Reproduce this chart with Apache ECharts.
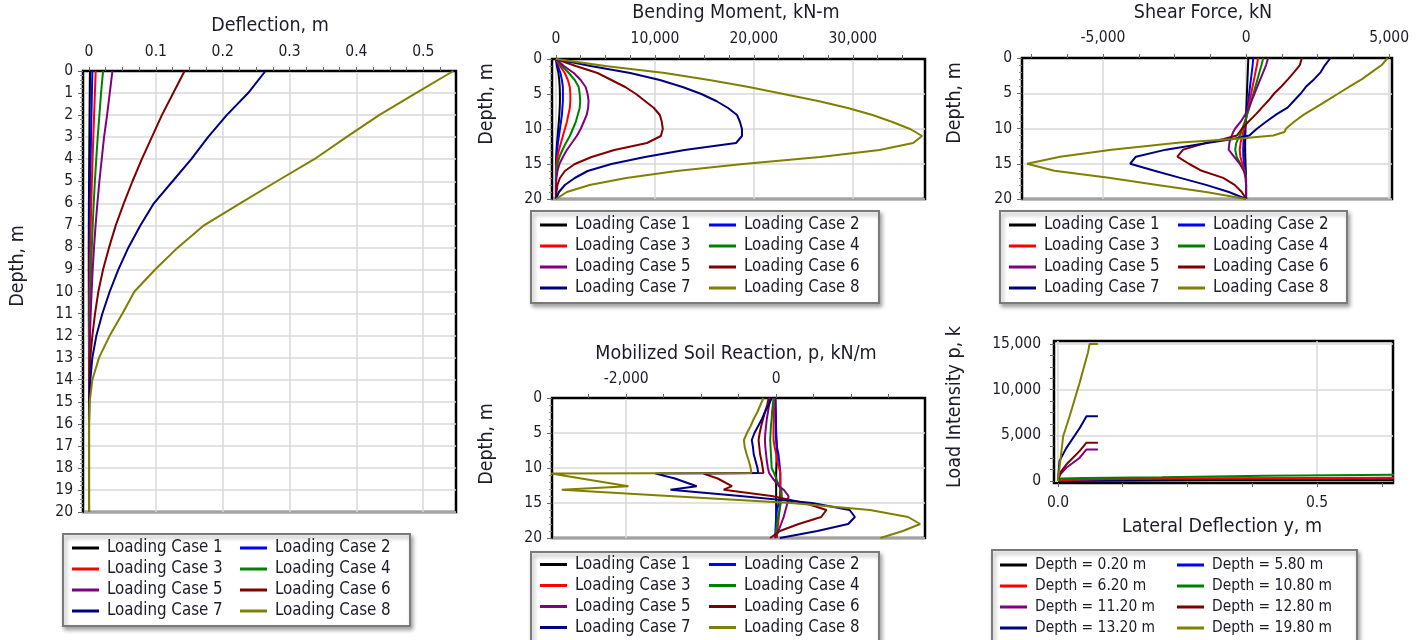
<!DOCTYPE html>
<html>
<head>
<meta charset="utf-8">
<title>Lateral pile response</title>
<script src="https://cdn.jsdelivr.net/npm/echarts@6/dist/echarts.min.js"></script>
<style>
  html, body { margin: 0; padding: 0; background: #fff; }
  #main { width: 1417px; height: 640px; }
</style>
</head>
<body>
<div id="main"></div>
<script>
// ---------- data ----------
const caseNames = ['Loading Case 1', 'Loading Case 2', 'Loading Case 3', 'Loading Case 4',
  'Loading Case 5', 'Loading Case 6', 'Loading Case 7', 'Loading Case 8']
const depthNames = ['Depth = 0.20 m', 'Depth = 5.80 m', 'Depth = 6.20 m', 'Depth = 10.80 m',
  'Depth = 11.20 m', 'Depth = 12.80 m', 'Depth = 13.20 m', 'Depth = 19.80 m']
const colors = ['#000000', '#0000ff', '#ff0000', '#008000', '#800080', '#800000', '#000080', '#808000']

// depth stations (m)
const depth = [0, 1, 2, 3, 4, 5, 6, 7, 8, 9, 10, 11, 12, 13, 14, 15, 16, 17, 18, 19, 20]
const shearDepth = [0, 1, 2, 3, 4, 5, 6, 7, 8, 9, 10, 10.5, 11, 11.5, 12, 13, 14, 15, 16, 17, 18, 19, 20]
const soilDepth = [0, 1, 2, 3, 4, 5, 6, 7, 8, 9, 10, 10.7, 10.8, 11.5, 12.6, 13.1, 14, 15, 16, 17, 18, 19, 20]

// deflection (m), one row per loading case
const deflection = [
  [0.0015, 0.0012, 0.0009, 0.0006, 0.0003, 0.0001, -0.0002, -0.0003, -0.0004, -0.0004, -0.0003, -0.0003, -0.0002, -0.0001, 0, 0, 0, 0, 0, 0, 0],
  [0.005, 0.0043, 0.0036, 0.003, 0.0024, 0.0018, 0.0013, 0.0009, 0.0006, 0.0003, 0.0001, 0, 0, 0, 0, 0, 0, 0, 0, 0, 0],
  [0.010, 0.0088, 0.0076, 0.0064, 0.0053, 0.0043, 0.0034, 0.0026, 0.0019, 0.0013, 0.0008, 0.0005, 0.0002, 0.0001, 0, 0, 0, 0, 0, 0, 0],
  [0.021, 0.018, 0.0155, 0.013, 0.0108, 0.0088, 0.007, 0.0055, 0.0042, 0.003, 0.0021, 0.0013, 0.0007, 0.0003, 0.0001, 0, 0, 0, 0, 0, 0],
  [0.035, 0.031, 0.027, 0.0225, 0.019, 0.0155, 0.0125, 0.0098, 0.0075, 0.0055, 0.0039, 0.0025, 0.0014, 0.0007, 0.0002, 0, 0, 0, 0, 0, 0],
  [0.143, 0.126, 0.109, 0.094, 0.079, 0.065, 0.052, 0.040, 0.030, 0.021, 0.014, 0.009, 0.005, 0.002, 0.0007, 0, 0, 0, 0, 0, 0],
  [0.264, 0.238, 0.206, 0.178, 0.153, 0.125, 0.097, 0.077, 0.059, 0.044, 0.031, 0.020, 0.011, 0.005, 0.002, 0.0005, 0, 0, 0, 0, 0],
  [0.545, 0.489, 0.434, 0.385, 0.337, 0.281, 0.226, 0.172, 0.133, 0.099, 0.068, 0.050, 0.031, 0.015, 0.005, 0.001, 0, 0, 0, 0, 0],
]

// bending moment (kN-m)
const moment = [
  [0, 100, 250, 330, 380, 400, 400, 380, 340, 290, 230, 170, 110, 60, 30, 10, 0, 0, 0, 0, 0],
  [0, 200, 450, 600, 700, 700, 700, 650, 600, 500, 400, 300, 200, 120, 60, 20, 0, 0, 0, 0, 0],
  [0, 400, 900, 1200, 1400, 1450, 1450, 1400, 1250, 1100, 900, 700, 500, 300, 150, 50, 0, 0, 0, 0, 0],
  [0, 600, 1300, 1900, 2300, 2400, 2450, 2400, 2200, 2000, 1700, 1400, 1000, 650, 350, 150, 50, 0, 0, 0, 0],
  [0, 800, 1800, 2500, 3000, 3200, 3300, 3250, 3100, 2800, 2500, 2100, 1600, 1100, 700, 350, 150, 50, 0, 0, 0],
  [0, 2000, 4200, 5600, 7000, 8100, 9000, 9900, 10500, 10700, 10800, 10600, 9200, 5900, 3600, 1900, 900, 400, 150, 50, 0],
  [0, 3500, 7500, 10500, 12800, 14700, 16200, 17400, 18300, 18600, 18800, 18800, 18200, 13000, 9000, 5600, 3200, 1900, 900, 300, 0],
  [0, 5000, 11000, 15500, 19500, 23000, 26500, 29500, 32000, 34000, 35800, 37000, 36100, 32700, 26700, 18900, 12200, 7100, 3400, 1100, 0],
]

// shear force (kN), at shearDepth
const shear = [
  [80, 70, 60, 50, 40, 30, 20, 10, 0, -10, -20, -25, -30, -30, -35, -35, -30, -20, -10, 0, 0, 0, 0],
  [250, 230, 200, 170, 140, 110, 80, 50, 20, -10, -40, -55, -70, -80, -90, -100, -95, -70, -30, -10, 0, 0, 0],
  [420, 380, 330, 280, 230, 180, 130, 80, 30, -20, -70, -100, -130, -160, -190, -220, -200, -130, -50, -10, 0, 0, 0],
  [600, 540, 470, 400, 330, 260, 190, 120, 40, -40, -130, -170, -220, -280, -340, -380, -330, -200, -60, 0, 0, 0, 0],
  [770, 700, 600, 500, 400, 300, 200, 100, -30, -180, -380, -450, -500, -550, -580, -610, -420, -220, -80, -10, 0, 0, 0],
  [1950, 1880, 1680, 1470, 1240, 990, 790, 560, 340, 90, -140, -230, -320, -780, -1360, -2200, -2400, -2000, -1550, -800, -400, -150, 0],
  [2950, 2760, 2610, 2380, 2110, 1920, 1690, 1460, 1060, 710, 390, 250, 115, -450, -1250, -2800, -3850, -4050, -3200, -2300, -1400, -600, 0],
  [4950, 4740, 4390, 4050, 3640, 3240, 2840, 2440, 2030, 1690, 1400, 1340, 950, -400, -2300, -4700, -6500, -7650, -6700, -4800, -3100, -1400, 0],
]

// mobilized soil reaction (kN/m), at soilDepth
const soil = [
  [-10, -8, -6, -4, -2, 0, 5, 10, 8, 5, 2, 0, 0, 0, 0, 0, 0, 0, 0, 0, 0, 0, 0],
  [-15, -12, -10, -8, -5, -3, 0, 10, 30, 40, 50, 55, 55, 55, 55, 55, 50, 35, 10, 0, -5, -10, -15],
  [-25, -28, -30, -32, -35, -35, -35, -20, 0, 10, 40, 55, 55, 55, 55, 55, 55, 55, 45, 35, 25, 15, 10],
  [-35, -45, -55, -60, -70, -75, -80, -75, -70, -65, -60, -30, -25, 0, 40, 70, 75, 60, 45, 25, 10, 0, -15],
  [-80, -95, -110, -125, -135, -145, -150, -145, -135, -125, -110, -95, -90, -45, 40, 100, 165, 150, 125, 100, 65, 30, -15],
  [-100, -120, -150, -175, -200, -220, -235, -225, -215, -195, -180, -170, -970, -780, -590, -700, -60, 380, 670, 600, 300, 50, -80],
  [-60, -100, -150, -190, -240, -290, -325, -310, -300, -275, -250, -240, -1610, -1350, -1060, -1410, -480, 480, 980, 1050, 960, 550, 50],
  [-170, -210, -250, -300, -340, -390, -430, -420, -395, -365, -340, -330, -3000, -2600, -1970, -2860, -1430, 200, 1250, 1760, 1920, 1690, 1390],
]

// p-y curves: lateral deflection y (m) and load intensity p, one row per depth
const pyDefl = [
  [0, 0.1, 0.3, 0.65],
  [0, 0.02, 0.1, 0.3, 0.65],
  [0, 0.01, 0.1, 0.3, 0.5, 0.65],
  [0, 0.005, 0.05, 0.2, 0.4, 0.65],
  [0, 0.004, 0.016, 0.042, 0.055, 0.077],
  [0, 0.004, 0.016, 0.042, 0.055, 0.077],
  [0, 0.003, 0.016, 0.042, 0.055, 0.077],
  [0, 0.01, 0.023, 0.042, 0.058, 0.061, 0.077],
]
const pyLoad = [
  [0, 40, 70, 90],
  [0, 80, 150, 220, 280],
  [0, 120, 220, 300, 340, 360],
  [0, 280, 330, 420, 580, 680],
  [0, 700, 1450, 2550, 3450, 3450],
  [0, 900, 1800, 3300, 4200, 4200],
  [0, 2200, 3600, 5800, 7100, 7100],
  [0, 4900, 7200, 10800, 14100, 15000, 15000],
]

// tick labels
const deflLabels = [0, 0.1, 0.2, 0.3, 0.4, 0.5]
const momentLabels = [0, 10000, 20000, 30000]
const shearLabels = [-5000, 0, 5000]
const soilLabels = [-2000, 0]
const pyDeflLabels = [0, 0.5]
const pyLoadLabels = [0, 5000, 10000, 15000]

// ---------- styling helpers ----------
const FONT = '"DejaVu Sans Condensed", "DejaVu Sans", sans-serif'
const TXT = '#1c1c28'
const GRIDLINE = { color: '#d9d9d9', width: 1.5 }
const TICK_FONT = 15.5

function steps(a, b, s) {
  const r = []
  for (let v = a; v <= b + s * 1e-6; v += s) r.push(+v.toFixed(6))
  return r
}
const thousands = (v) => Math.round(v).toLocaleString('en-US')

// depth axis (inverted, 0 at top)
function depthAxis(gridIndex, step) {
  return {
    gridIndex, type: 'value', inverse: true, min: 0, max: 20, interval: step,
    axisLine: { show: true, onZero: false, lineStyle: { color: '#000', width: 2 } },
    axisTick: { show: true, length: 5, lineStyle: { color: '#666' } },
    minorTick: { show: true, splitNumber: 5, length: 3, lineStyle: { color: '#888' } },
    axisLabel: { margin: 10, color: TXT, fontFamily: FONT, fontSize: TICK_FONT },
    splitLine: { show: true, lineStyle: GRIDLINE },
  }
}

// value axis + twin axis that only carries the grid lines
function valuePair(gridIndex, position, min, max, labels, ticks, fmt, margin) {
  return [
    {
      gridIndex, type: 'value', position, min, max,
      axisLine: { show: true, onZero: false, lineStyle: { color: '#000', width: 2 } },
      axisTick: { show: true, length: 4, customValues: ticks, lineStyle: { color: '#666' } },
      axisLabel: { customValues: labels, formatter: fmt, margin, color: TXT, fontFamily: FONT, fontSize: TICK_FONT },
      splitLine: { show: false },
    },
    {
      gridIndex, type: 'value', position, min, max,
      axisLine: { show: false, onZero: false },
      axisTick: { show: false, customValues: labels },
      axisLabel: { show: false },
      splitLine: { show: true, lineStyle: GRIDLINE },
    },
  ]
}

function gridBox(left, top, width, height) {
  return { left, top, width, height, show: true, borderColor: '#000', borderWidth: 2.5, backgroundColor: '#fff' }
}

function legendPair(names, left1, left2, top, size) {
  const base = {
    orient: 'vertical', top, padding: 0, itemGap: 4, itemWidth: 27, itemHeight: 3,
    icon: 'rect', selectedMode: false,
    textStyle: { fontFamily: FONT, fontSize: size, color: TXT, lineHeight: 17, padding: [0, 0, 0, 3] },
  }
  return [
    Object.assign({}, base, { left: left1, data: names.filter((n, i) => i % 2 === 0) }),
    Object.assign({}, base, { left: left2, data: names.filter((n, i) => i % 2 === 1) }),
  ]
}

function label(text, x, y, size, rotate) {
  return {
    type: 'text', x, y, rotation: rotate ? Math.PI / 2 : 0, silent: true,
    style: {
      text, fill: TXT, font: size + 'px ' + FONT,
      align: 'center', verticalAlign: 'middle', textAlign: 'center', textVerticalAlign: 'middle',
    },
  }
}

function legendBox(x, y, w, h) {
  return {
    type: 'rect', shape: { x, y, width: w, height: h }, z: 0, silent: true,
    style: {
      fill: '#fff', stroke: '#7a7a7a', lineWidth: 2,
      shadowColor: 'rgba(0,0,0,0.35)', shadowBlur: 4, shadowOffsetX: 2, shadowOffsetY: 3,
    },
  }
}

// ---------- series ----------
const series = []
function addProfile(rows, depths, xIdx, yIdx) {
  rows.forEach((vals, k) => {
    series.push({
      name: caseNames[k], type: 'line', xAxisIndex: xIdx, yAxisIndex: yIdx,
      data: vals.map((v, i) => [v, depths[i]]),
      symbol: 'none', showSymbol: false, silent: true,
      lineStyle: { color: colors[k], width: 2 }, itemStyle: { color: colors[k] },
    })
  })
}
addProfile(deflection, depth, 0, 0)
addProfile(moment, depth, 2, 1)
addProfile(shear, shearDepth, 4, 2)
addProfile(soil, soilDepth, 6, 3)
pyDefl.forEach((xs, k) => {
  series.push({
    name: depthNames[k], type: 'line', xAxisIndex: 8, yAxisIndex: 4,
    data: xs.map((x, i) => [x, pyLoad[k][i]]),
    symbol: 'none', showSymbol: false, silent: true,
    lineStyle: { color: colors[k], width: 2 }, itemStyle: { color: colors[k] },
  })
})

// ---------- option ----------
const oneDecimal = (v) => (v === 0 ? '0' : v.toFixed(1))

const option = {
  animation: false,
  backgroundColor: '#fff',
  grid: [
    gridBox(83, 71, 373, 441),
    gridBox(552, 59, 373, 140),
    gridBox(1022, 58, 370, 141),
    gridBox(552, 398, 373, 140),
    gridBox(1054, 341, 339, 142),
  ],
  xAxis: [
    ...valuePair(0, 'top', -0.009, 0.549, deflLabels, steps(0, 0.525, 0.025), oneDecimal, 11),
    ...valuePair(1, 'top', -400, 37300, momentLabels, steps(0, 35000, 2500), thousands, 12),
    ...valuePair(2, 'top', -7830, 5100, shearLabels, steps(-7500, 5000, 1250), thousands, 12),
    ...valuePair(3, 'top', -2990, 1985, soilLabels, steps(-2500, 1500, 500), thousands, 11),
    ...valuePair(4, 'bottom', -0.0077, 0.6467, pyDeflLabels, steps(0, 0.625, 0.125), (v) => v.toFixed(1), 12),
  ],
  yAxis: [
    depthAxis(0, 1),
    depthAxis(1, 5),
    depthAxis(2, 5),
    depthAxis(3, 5),
    ...valuePair(4, 'left', -220, 15330, pyLoadLabels, steps(0, 15000, 1250), thousands, 13),
  ],
  legend: [
    ...legendPair(caseNames, 72, 240, 539.5, 16.8),
    ...legendPair(caseNames, 540, 709, 216.5, 16.8),
    ...legendPair(caseNames, 1009, 1178, 216.5, 16.8),
    ...legendPair(caseNames, 540, 709, 556, 16.8),
    ...legendPair(depthNames, 1000, 1177, 556.5, 15.4),
  ],
  graphic: [
    legendBox(63, 534, 347, 92),
    legendBox(531, 211, 348, 92),
    legendBox(1000, 211, 347, 92),
    legendBox(531, 552, 348, 100),
    legendBox(992, 550, 365, 100),
    label('Deflection, m', 270, 26, 19.5),
    label('Depth, m', 18, 266, 19.5, true),
    label('Bending Moment, kN-m', 736, 13, 19.5),
    label('Depth, m', 487, 104, 19.5, true),
    label('Shear Force, kN', 1203, 13, 19.5),
    label('Depth, m', 955, 103, 19.5, true),
    label('Mobilized Soil Reaction, p, kN/m', 736, 354, 19.5),
    label('Depth, m', 487, 444, 19.5, true),
    label('Lateral Deflection y, m', 1222, 527, 19.5),
    label('Load Intensity p, k', 955, 407, 19.5, true),
  ],
  series,
}

const chart = echarts.init(document.getElementById('main'))
chart.setOption(option)
window.addEventListener('resize', () => chart.resize())
</script>
</body>
</html>
